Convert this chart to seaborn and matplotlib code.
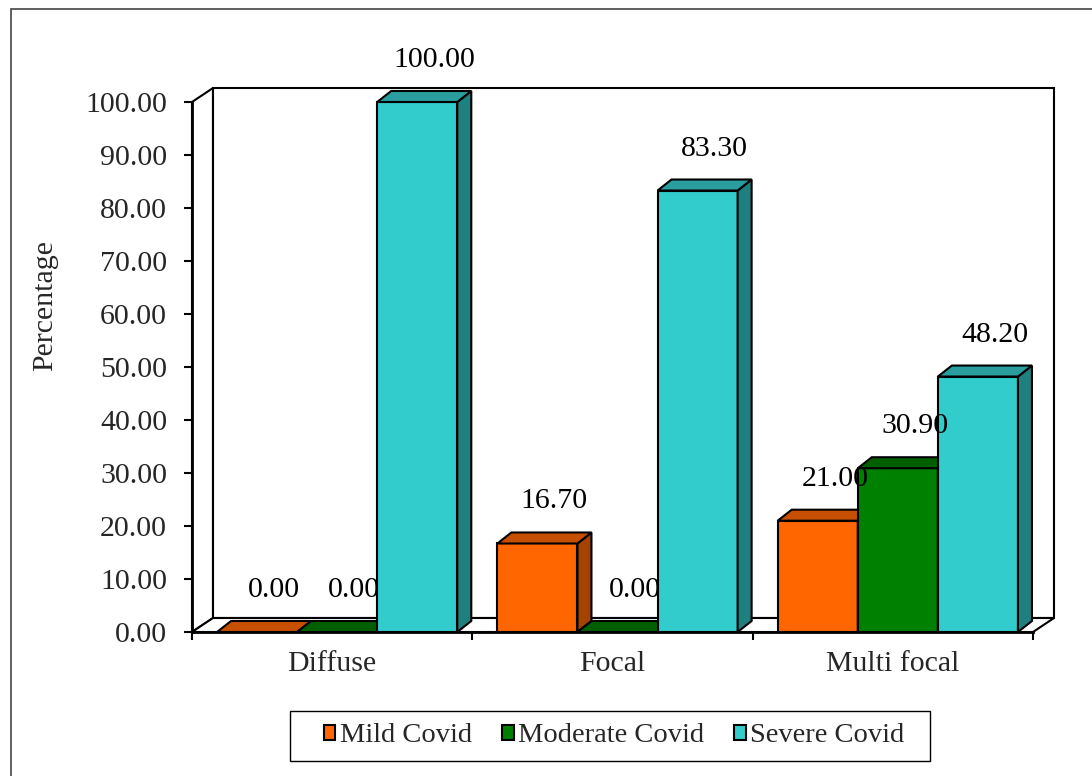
import matplotlib
matplotlib.use("Agg")
import matplotlib.pyplot as plt
from matplotlib.patches import Polygon, Rectangle, Patch
import seaborn as sns
import pandas as pd

# ---- data ----
categories = ["Diffuse", "Focal", "Multi focal"]
series_names = ["Mild Covid", "Moderate Covid", "Severe Covid"]
mild = [0.00, 16.70, 21.00]
moderate = [0.00, 0.00, 30.90]
severe = [100.00, 83.30, 48.20]
y_ticks = [0, 10, 20, 30, 40, 50, 60, 70, 80, 90, 100]
y_label = "Percentage"

front_colors = ["#FF6600", "#008000", "#33CCCC"]
top_colors = ["#C65000", "#006000", "#2A9E9E"]
side_colors = ["#A44200", "#004C00", "#1F8080"]

rows = []
for name, vals in zip(series_names, [mild, moderate, severe]):
    for c, v in zip(categories, vals):
        rows.append({"Location": c, "Severity": name, "Percentage": v})
df = pd.DataFrame(rows)

sns.set_theme(style="white")
plt.rcParams["font.family"] = ["Liberation Serif", "DejaVu Serif"]

W, H = 1092, 776
fig = plt.figure(figsize=(W / 100, H / 100), dpi=100)
L, R, B, T = 192, 1033, 632, 102
ax = fig.add_axes([L / W, (H - B) / H, (R - L) / W, (B - T) / H])
ax.patch.set_visible(False)

sns.barplot(data=df, x="Location", y="Percentage", hue="Severity",
            hue_order=series_names, order=categories, palette=front_colors,
            width=0.857, edgecolor="black", linewidth=1.5, legend=False,
            saturation=1, ax=ax)

ax.set_xlim(-0.5, 2.5)
ax.set_ylim(0, 100)

# pixel -> data scale
sx = 3.0 / (R - L)
sy = 100.0 / (B - T)
wdx, wdy = 21 * sx, 14 * sy      # wall depth
bdx, bdy = 14 * sx, 11 * sy      # bar depth
shift = 5 * sx                   # small 3D perspective shift of bars

ekw = dict(edgecolor="black", linewidth=1.5, clip_on=False, joinstyle="miter")
# side wall, back wall, floor
ax.add_patch(Polygon([(-0.5, 0), (-0.5 + wdx, wdy), (-0.5 + wdx, 100 + wdy), (-0.5, 100)],
                     facecolor="white", zorder=0.5, **ekw))
ax.add_patch(Polygon([(-0.5 + wdx, wdy), (2.5 + wdx, wdy), (2.5 + wdx, 100 + wdy), (-0.5 + wdx, 100 + wdy)],
                     facecolor="white", zorder=0.5, **ekw))
ax.add_patch(Polygon([(-0.5, 0), (-0.5 + wdx, wdy), (2.5 + wdx, wdy), (2.5, 0)],
                     facecolor="white", zorder=0.6, **ekw))

# 3D faces for bars
bars = []
for si, cont in enumerate(ax.containers):
    vals = [mild, moderate, severe][si]
    for bi, p in enumerate(cont.patches):
        p.set_x(p.get_x() + shift)
        bars.append((p.get_x(), si, p, vals[bi]))
bars.sort(key=lambda t: t[0])
for rank, (x0, si, p, v) in enumerate(bars):
    z = 2 + rank * 0.1
    p.set_zorder(z)
    p.set_clip_on(False)
    w = p.get_width()
    h = v
    top = Polygon([(x0, h), (x0 + bdx, h + bdy), (x0 + w + bdx, h + bdy), (x0 + w, h)],
                  facecolor=top_colors[si], zorder=z + 0.01, **ekw)
    side = Polygon([(x0 + w, 0), (x0 + w + bdx, bdy), (x0 + w + bdx, h + bdy), (x0 + w, h)],
                   facecolor=side_colors[si], zorder=z + 0.01, **ekw)
    ax.add_patch(side)
    ax.add_patch(top)
    ax.text(x0 + w / 2 + 17 * sx, h + 42 * sy, f"{v:.2f}", ha="center", va="center",
            fontsize=21.5, color="black", zorder=20, clip_on=False)

# axes styling
for s in ["top", "right"]:
    ax.spines[s].set_visible(False)
for s in ["left", "bottom"]:
    ax.spines[s].set_color("black")
    ax.spines[s].set_linewidth(2)
    ax.spines[s].set_zorder(10)

ax.set_yticks(y_ticks)
ax.set_yticklabels([f"{t:.2f}" for t in y_ticks])
ax.tick_params(axis="y", direction="out", length=6, width=1.5, color="black",
               pad=12, labelsize=21.5, left=True)
ax.set_xticks(range(len(categories)))
ax.set_xticklabels(categories)
ax.set_xticks([-0.5, 0.5, 1.5, 2.5], minor=True)
ax.tick_params(axis="x", which="major", length=0, pad=14, labelsize=21.5)
ax.tick_params(axis="x", which="minor", direction="out", length=6, width=1.5,
               color="black", bottom=True)
ax.set_xlabel("")
ax.set_ylabel(y_label, fontsize=21.5)
ax.yaxis.set_label_coords((58 - L) / (R - L), (B - 306) / (B - T))

# legend
handles = [Patch(facecolor=c, edgecolor="black", linewidth=1.5) for c in front_colors]
fig.legend(handles, series_names, loc="center",
           bbox_to_anchor=(614 / W, 1 - 736 / H), ncol=3, frameon=False,
           handlelength=0.42, handleheight=0.42, handletextpad=0.15,
           columnspacing=1.05, prop={"size": 20.5})
fig.patches.append(Rectangle((290 / W, 1 - 761 / H), (930 - 290) / W, (761 - 711) / H,
                             transform=fig.transFigure, fill=False,
                             edgecolor="black", linewidth=1))
# outer chart border
fig.patches.append(Rectangle((11 / W, -0.1), 1.2, (1 - 9 / H) + 0.1,
                             transform=fig.transFigure, fill=False,
                             edgecolor="#444444", linewidth=1.2))

fig.savefig("out.png", dpi=100)
